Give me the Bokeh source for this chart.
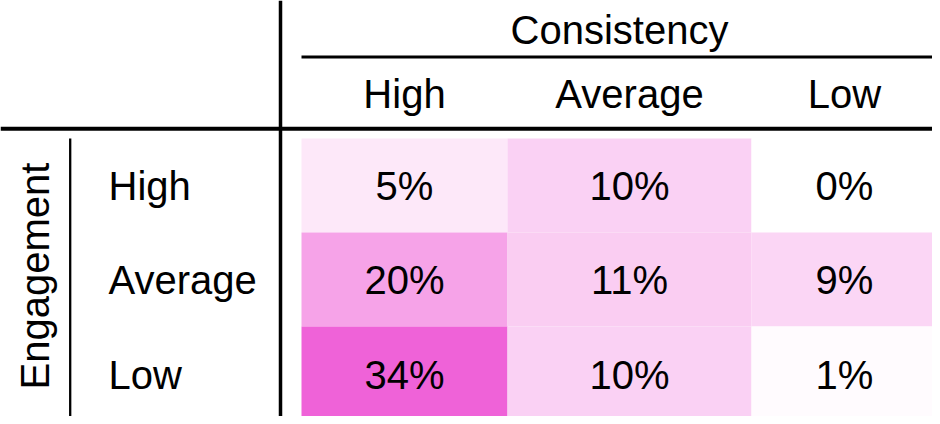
import numpy as np
from bokeh.plotting import figure
from bokeh.models import ColumnDataSource, Range1d, LinearColorMapper
from bokeh.transform import transform
from bokeh.core.properties import value
from bokeh.embed import file_html
from bokeh.resources import INLINE

# ---- data ----
consistency = ["High", "Average", "Low"]          # columns
engagement = ["High", "Average", "Low"]           # rows
pct_engagement_high = [5, 10, 0]
pct_engagement_average = [20, 11, 9]
pct_engagement_low = [34, 10, 1]
col_title = "Consistency"
row_title = "Engagement"

# ---- layout (screen pixels) ----
W, H = 932, 416
COL_EDGES = [301, 507, 751, 937]
ROW_EDGES = [138, 232, 326, 421]
TXT_SHIFT = -14          # renderer places alphabetic baseline lower; compensate
HEADER_BASE = 107 + TXT_SHIFT
TITLE_BASE = 43 + TXT_SHIFT
ROW_LABEL_X = 108
CAP_HALF = 14.5 + TXT_SHIFT
FONT = value("Liberation Sans")
FS = value("40px")


def lerp_palette(c0, c1, n=256):
    a = np.array([int(c0[i:i + 2], 16) for i in (1, 3, 5)], float)
    b = np.array([int(c1[i:i + 2], 16) for i in (1, 3, 5)], float)
    out = []
    for t in np.linspace(0, 1, n):
        c = np.round(a + (b - a) * t).astype(int)
        out.append("#%02x%02x%02x" % tuple(c))
    return out


rows_values = [pct_engagement_high, pct_engagement_average, pct_engagement_low]
xs_l, xs_r, ys_t, ys_b, vals, labels, cx, cy = [], [], [], [], [], [], [], []
for r, row in enumerate(rows_values):
    for c, v in enumerate(row):
        xs_l.append(COL_EDGES[c])
        xs_r.append(COL_EDGES[c + 1])
        ys_t.append(ROW_EDGES[r])
        ys_b.append(ROW_EDGES[r + 1])
        vals.append(v)
        labels.append(f"{v}%")
        cx.append((COL_EDGES[c] + COL_EDGES[c + 1]) / 2)
        cy.append((ROW_EDGES[r] + ROW_EDGES[r + 1]) / 2 + CAP_HALF)

src = ColumnDataSource(dict(left=xs_l, right=xs_r, top=ys_t, bottom=ys_b,
                            v=vals, label=labels, x=cx, y=cy))
mapper = LinearColorMapper(palette=lerp_palette("#ffffff", "#ef62d8"),
                           low=0, high=max(vals))

p = figure(width=W, height=H, x_range=Range1d(0, W), y_range=Range1d(H, 0),
           output_backend="svg", toolbar_location=None, min_border=0,
           x_axis_location=None, y_axis_location=None, outline_line_color=None)
p.grid.visible = False
p.background_fill_color = "white"
p.border_fill_color = "white"

p.quad(left="left", right="right", top="top", bottom="bottom", source=src,
       fill_color=transform("v", mapper), line_color=None)
p.text(x="x", y="y", text="label", source=src, text_align="center",
       text_baseline="alphabetic", text_font=FONT, text_font_size=FS,
       text_color="black")

# column headers
col_src = ColumnDataSource(dict(
    x=[(COL_EDGES[i] + COL_EDGES[i + 1]) / 2 for i in range(len(consistency))],
    y=[HEADER_BASE] * len(consistency), t=consistency))
p.text(x="x", y="y", text="t", source=col_src, text_align="center",
       text_baseline="alphabetic", text_font=FONT, text_font_size=FS)

# row headers
row_src = ColumnDataSource(dict(
    x=[ROW_LABEL_X] * len(engagement),
    y=[(ROW_EDGES[i] + ROW_EDGES[i + 1]) / 2 + CAP_HALF for i in range(len(engagement))],
    t=engagement))
p.text(x="x", y="y", text="t", source=row_src, text_align="left",
       text_baseline="alphabetic", text_font=FONT, text_font_size=FS)

# titles
p.text(x=[(COL_EDGES[0] + COL_EDGES[-1]) / 2], y=[TITLE_BASE], text=[col_title],
       text_align="center", text_baseline="alphabetic", text_font=FONT, text_font_size=FS)
p.text(x=[48 + TXT_SHIFT], y=[(ROW_EDGES[0] + ROW_EDGES[-1]) / 2 - 4], text=[row_title],
       angle=np.pi / 2, text_align="center", text_baseline="alphabetic",
       text_font=FONT, text_font_size=FS)

# rules
p.segment(x0=[280], y0=[0], x1=[280], y1=[430], line_color="black", line_width=3.5)
p.segment(x0=[0], y0=[128.3], x1=[950], y1=[128.3], line_color="black", line_width=4)
p.segment(x0=[301], y0=[56.5], x1=[950], y1=[56.5], line_color="black", line_width=3)
p.segment(x0=[69.7], y0=[138], x1=[69.7], y1=[430], line_color="black", line_width=2.3)

open("out.html", "w").write(file_html(p, INLINE))
